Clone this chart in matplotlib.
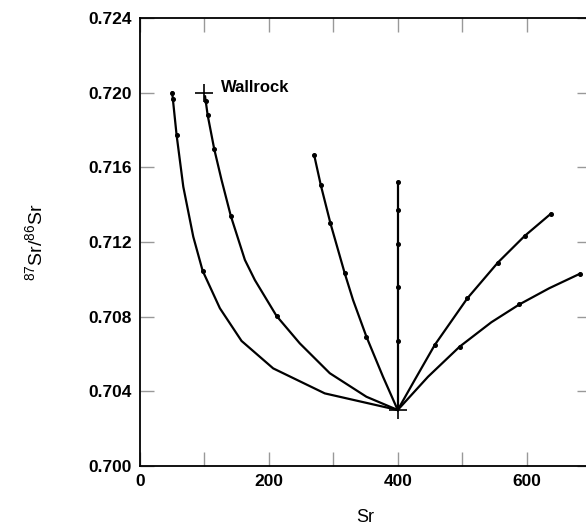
import matplotlib
matplotlib.use("Agg")
import matplotlib.pyplot as plt

plt.rcParams['font.family'] = ['Liberation Sans', 'DejaVu Sans']
plt.rcParams['mathtext.default'] = 'regular'

# mixing curves toward the fluid end member (Sr, 87Sr/86Sr)
c1_x = [50, 51, 56.8, 67.2, 82.7, 97.2, 124, 157.6, 206.7, 286.8, 400]
c1_y = [0.7200, 0.71966, 0.71773, 0.71496, 0.71228, 0.71046, 0.70845, 0.7067, 0.70523, 0.70389, 0.7030]
c1_dots = [0, 1, 2, 5]

c2_x = [101, 102, 105, 115.2, 126.6, 141, 162.8, 178.3, 211.9, 248, 294.6, 351.4, 400]
c2_y = [0.7198, 0.71955, 0.7188, 0.71698, 0.71532, 0.71339, 0.71104, 0.70996, 0.70804,
        0.70657, 0.70497, 0.70371, 0.7030]
c2_dots = [1, 2, 3, 5, 8]

c3_x = [270.3, 280.6, 295.6, 317.8, 330.7, 351.4, 377.2, 400]
c3_y = [0.71666, 0.71505, 0.71300, 0.71032, 0.70889, 0.70693, 0.70478, 0.7030]
c3_dots = [0, 1, 2, 3, 5]

c4_x = [400, 400, 400, 400, 400, 400]
c4_y = [0.7152, 0.7137, 0.7119, 0.7096, 0.7067, 0.7030]
c4_dots = [0, 1, 2, 3, 4]

c5_x = [400, 426.4, 457.4, 508, 555.5, 596.9, 637.2]
c5_y = [0.7030, 0.70461, 0.70648, 0.70898, 0.7109, 0.71232, 0.7135]
c5_dots = [2, 3, 4, 5, 6]

c6_x = [400, 447, 496, 545.3, 589, 635, 682.2]
c6_y = [0.7030, 0.70478, 0.70639, 0.70770, 0.70866, 0.70952, 0.71029]
c6_dots = [2, 4, 6]

wallrock = (100, 0.7200)
fluid = (400, 0.7030)

fig = plt.figure(figsize=(5.86, 5.27), dpi=100)
ax = fig.add_axes([140 / 586, 1 - 466 / 527, (591 - 140) / 586, (466 - 18) / 527])

curves = [(c1_x, c1_y, c1_dots), (c2_x, c2_y, c2_dots), (c3_x, c3_y, c3_dots),
          (c4_x, c4_y, c4_dots), (c5_x, c5_y, c5_dots), (c6_x, c6_y, c6_dots)]
for xs, ys, dots in curves:
    ax.plot(xs, ys, color='black', lw=1.6, marker='o', ms=2.6,
            markevery=dots, clip_on=False, solid_joinstyle='round')

ax.plot(*wallrock, marker='+', ms=13, mew=1.2, color='black')
ax.plot(*fluid, marker='+', ms=13, mew=1.2, color='black')
ax.text(wallrock[0] + 25, wallrock[1] + 0.0003, 'Wallrock', fontsize=12,
        fontweight='bold', va='center', ha='left')

ax.set_xlim(0, 700)
ax.set_ylim(0.700, 0.724)
ax.set_xticks([0, 100, 200, 300, 400, 500, 600, 700])
ax.set_xticklabels(['0', '', '200', '', '400', '', '600', ''])
ax.set_yticks([0.700, 0.704, 0.708, 0.712, 0.716, 0.720, 0.724])
ax.set_yticklabels(['0.700', '0.704', '0.708', '0.712', '0.716', '0.720', '0.724'])
ax.tick_params(direction='in', length=10, width=1, color='#999999',
               top=True, right=True, labelsize=12.5, pad=6)
for lab in ax.get_xticklabels() + ax.get_yticklabels():
    lab.set_fontweight('bold')
for sp in ax.spines.values():
    sp.set_linewidth(1.3)

ax.set_xlabel('Sr', fontsize=13, labelpad=14)
ax.set_ylabel('$^{87}$Sr/$^{86}$Sr', fontsize=14, labelpad=30)

fig.savefig('out.png', dpi=100)
